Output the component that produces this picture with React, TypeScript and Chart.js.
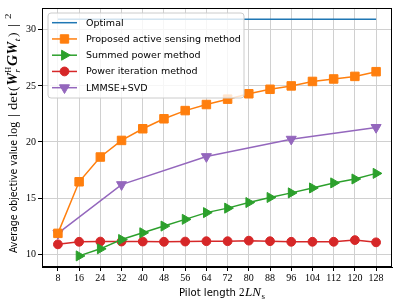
import React, { useEffect, useRef } from 'react';
import { Chart, registerables } from 'chart.js';

Chart.register(...registerables);

const pilotLengths = [8, 16, 24, 32, 40, 48, 56, 64, 72, 80, 88, 96, 104, 112, 120, 128];
const optimalValues = [30.95, 30.95, 30.95, 30.95, 30.95, 30.95, 30.95, 30.95, 30.95, 30.95, 30.95, 30.95, 30.95, 30.95, 30.95, 30.95];
const proposedValues = [11.85, 16.45, 18.66, 20.14, 21.18, 22.07, 22.8, 23.34, 23.82, 24.3, 24.7, 25.0, 25.4, 25.62, 25.85, 26.27];
const summedPowerValues = [null, 9.84, 10.47, 11.3, 11.9, 12.5, 13.1, 13.7, 14.1, 14.6, 15.05, 15.46, 15.9, 16.35, 16.7, 17.2];
const powerIterationValues = [10.87, 11.1, 11.12, 11.12, 11.12, 11.1, 11.12, 11.15, 11.15, 11.2, 11.15, 11.1, 11.1, 11.1, 11.25, 11.05];
const lmmseLengths = [8, 32, 64, 96, 128];
const lmmseValues = [11.85, 16.2, 18.7, 20.25, 21.3];

const xTickValues = [8, 16, 24, 32, 40, 48, 56, 64, 72, 80, 88, 96, 104, 112, 120, 128];
const yTickValues = [10, 15, 20, 25, 30];

const seriesNames = ['Optimal', 'Proposed active sensing method', 'Summed power method', 'Power iteration method', 'LMMSE+SVD'];
const seriesColors = ['#1f77b4', '#ff7f0e', '#2ca02c', '#d62728', '#9467bd'];
const seriesMarkers = ['none', 'square', 'triRight', 'circle', 'triDown'];

const SANS = '"DejaVu Sans", sans-serif';
const SERIF = '"Liberation Serif", serif';

function pts(xs: number[], ys: (number | null)[]) {
  return xs.map((x, i) => ({ x, y: ys[i] })).filter((p) => p.y !== null);
}

function drawMarker(ctx: CanvasRenderingContext2D, kind: string, x: number, y: number, color: string) {
  ctx.save();
  ctx.fillStyle = color;
  ctx.strokeStyle = color;
  ctx.lineWidth = 1;
  ctx.beginPath();
  if (kind === 'square') {
    const h = 4.2;
    ctx.rect(x - h, y - h, 2 * h, 2 * h);
  } else if (kind === 'circle') {
    ctx.arc(x, y, 4.4, 0, Math.PI * 2);
  } else if (kind === 'triRight' || kind === 'triDown') {
    const r = 5.8;
    let rad = kind === 'triRight' ? Math.PI / 2 : Math.PI;
    for (let k = 0; k < 3; k++) {
      const px = x + Math.sin(rad) * r;
      const py = y - Math.cos(rad) * r;
      if (k === 0) ctx.moveTo(px, py);
      else ctx.lineTo(px, py);
      rad += (2 * Math.PI) / 3;
    }
    ctx.closePath();
  } else {
    ctx.restore();
    return;
  }
  ctx.fill();
  ctx.stroke();
  ctx.restore();
}

// A text run placed between u0 and u1 along the text direction (stretched to fit), with baseline offset dv.
type Run = { t: string; f: string; u0: number; u1: number; dv?: number };

function drawRuns(ctx: CanvasRenderingContext2D, runs: Run[]) {
  ctx.textBaseline = 'alphabetic';
  ctx.textAlign = 'left';
  runs.forEach((r) => {
    ctx.font = r.f;
    const w = ctx.measureText(r.t).width || 1;
    const k = (r.u1 - r.u0) / w;
    ctx.save();
    ctx.translate(r.u0, r.dv || 0);
    ctx.scale(k, 1);
    ctx.fillText(r.t, 0, 0);
    ctx.restore();
  });
}

const overlayPlugin = {
  id: 'overlay',
  afterDraw(chart: any) {
    const ctx: CanvasRenderingContext2D = chart.ctx;
    const a = chart.chartArea;
    ctx.save();
    // frame
    ctx.strokeStyle = '#000';
    ctx.lineWidth = 1;
    ctx.strokeRect(Math.round(a.left) + 0.5, Math.round(a.top) + 0.5, Math.round(a.right - a.left) - 1, Math.round(a.bottom - a.top) - 1);

    // legend
    const lx = 48, ly = 13, lw = 196, lh = 85, rr = 3;
    ctx.beginPath();
    ctx.moveTo(lx + rr, ly);
    ctx.lineTo(lx + lw - rr, ly);
    ctx.quadraticCurveTo(lx + lw, ly, lx + lw, ly + rr);
    ctx.lineTo(lx + lw, ly + lh - rr);
    ctx.quadraticCurveTo(lx + lw, ly + lh, lx + lw - rr, ly + lh);
    ctx.lineTo(lx + rr, ly + lh);
    ctx.quadraticCurveTo(lx, ly + lh, lx, ly + lh - rr);
    ctx.lineTo(lx, ly + rr);
    ctx.quadraticCurveTo(lx, ly, lx + rr, ly);
    ctx.closePath();
    ctx.fillStyle = 'rgba(255,255,255,0.8)';
    ctx.fill();
    ctx.strokeStyle = '#cccccc';
    ctx.lineWidth = 1;
    ctx.stroke();
    ctx.textBaseline = 'middle';
    ctx.textAlign = 'left';
    seriesNames.forEach((name, i) => {
      const yy = 22.7 + i * 16.25;
      ctx.strokeStyle = seriesColors[i];
      ctx.lineWidth = 1.5;
      ctx.beginPath();
      ctx.moveTo(52, yy);
      ctx.lineTo(77, yy);
      ctx.stroke();
      drawMarker(ctx, seriesMarkers[i], 64.5, yy, seriesColors[i]);
      ctx.fillStyle = '#000';
      ctx.font = '9.5px ' + SANS;
      ctx.fillText(name, 86, yy + 0.5);
    });

    // x title (u measured from x = 179)
    ctx.fillStyle = '#000';
    ctx.save();
    ctx.translate(179, 296);
    drawRuns(ctx, [
      { t: 'Pilot length', f: '10px ' + SANS, u0: 0, u1: 57 },
      { t: '2', f: '11.5px ' + SERIF, u0: 60, u1: 65.5 },
      { t: 'LN', f: 'italic 11.5px ' + SERIF, u0: 66, u1: 82 },
      { t: 's', f: '8px ' + SERIF, u0: 82.5, u1: 86, dv: 2.5 },
    ]);
    ctx.restore();

    // y title (rotated; u measured upward from y = 253)
    ctx.save();
    ctx.translate(17, 253);
    ctx.rotate(-Math.PI / 2);
    const rm = '13px ' + SERIF;
    const bi = 'italic bold 14.5px ' + SERIF;
    const sc = '8.5px ' + SERIF;
    const sci = 'italic 8.5px ' + SERIF;
    drawRuns(ctx, [
      { t: 'Average objective value', f: '10px ' + SANS, u0: 0, u1: 113 },
      { t: 'log', f: rm, u0: 116, u1: 131 },
      { t: '|', f: rm, u0: 136, u1: 139 },
      { t: 'det', f: rm, u0: 143, u1: 161 },
      { t: '(', f: rm, u0: 162, u1: 166.5 },
      { t: 'W', f: bi, u0: 167.5, u1: 180 },
      { t: 'r', f: sci, u0: 180.5, u1: 184, dv: 2.5 },
      { t: 'H', f: sc, u0: 180.5, u1: 186, dv: -6.5 },
      { t: 'G', f: bi, u0: 187, u1: 198 },
      { t: 'W', f: bi, u0: 198.5, u1: 211 },
      { t: 't', f: sci, u0: 211.5, u1: 214.5, dv: 2.5 },
      { t: ')', f: rm, u0: 216, u1: 220.5 },
      { t: '|', f: rm, u0: 226, u1: 229 },
      { t: '2', f: sc, u0: 234, u1: 239.5, dv: -6 },
    ]);
    ctx.restore();
    ctx.restore();
  },
};

export default function App() {
  const ref = useRef<HTMLCanvasElement | null>(null);
  useEffect(() => {
    if (!ref.current) return;
    const lineDs = (label: string, data: any[], color: string, style: any, radius: number, rotation = 0) => ({
      label,
      data,
      borderColor: color,
      backgroundColor: color,
      borderWidth: 1.5,
      pointStyle: style,
      pointRadius: radius,
      pointHoverRadius: radius,
      pointRotation: rotation,
      pointBorderWidth: 1,
      pointBackgroundColor: color,
      pointBorderColor: color,
      tension: 0,
      fill: false,
    });
    const chart = new Chart(ref.current, {
      type: 'line',
      data: {
        datasets: [
          lineDs(seriesNames[1], pts(pilotLengths, proposedValues), seriesColors[1], 'rect', 6),
          lineDs(seriesNames[2], pts(pilotLengths, summedPowerValues), seriesColors[2], 'triangle', 5.8, 90),
          lineDs(seriesNames[3], pts(pilotLengths, powerIterationValues), seriesColors[3], 'circle', 4.4),
          lineDs(seriesNames[4], pts(lmmseLengths, lmmseValues), seriesColors[4], 'triangle', 5.8, 180),
          lineDs(seriesNames[0], pts(pilotLengths, optimalValues), seriesColors[0], false, 0),
        ] as any,
      },
      options: {
        animation: false,
        responsive: false,
        events: [],
        layout: { padding: { top: 7, right: 7, left: 0, bottom: 0 } },
        plugins: { legend: { display: false }, tooltip: { enabled: false }, title: { display: false } },
        scales: {
          x: {
            type: 'linear',
            min: 2,
            max: 134,
            afterFit: (s: any) => { s.height = 39; },
            afterBuildTicks: (s: any) => { s.ticks = xTickValues.map((v) => ({ value: v })); },
            ticks: { font: { family: SERIF, size: 10 }, color: '#000', padding: 1, maxRotation: 0, autoSkip: false },
            grid: { color: '#d0d0d0', lineWidth: 1, tickLength: 4, tickColor: '#000' },
            border: { color: '#000', width: 1 },
          },
          y: {
            type: 'linear',
            min: 8.85,
            max: 31.95,
            afterFit: (s: any) => { s.width = 42; },
            afterBuildTicks: (s: any) => { s.ticks = yTickValues.map((v) => ({ value: v })); },
            ticks: { font: { family: SERIF, size: 10 }, color: '#000', padding: 2 },
            grid: { color: '#d0d0d0', lineWidth: 1, tickLength: 4, tickColor: '#000' },
            border: { color: '#000', width: 1 },
          },
        },
      },
      plugins: [overlayPlugin],
    });
    return () => chart.destroy();
  }, []);
  return (
    <div style={{ position: 'absolute', left: 0, top: 0, width: 399, height: 306, background: '#fff' }}>
      <canvas ref={ref} width={399} height={306} style={{ width: 399, height: 306, display: 'block' }} />
    </div>
  );
}
